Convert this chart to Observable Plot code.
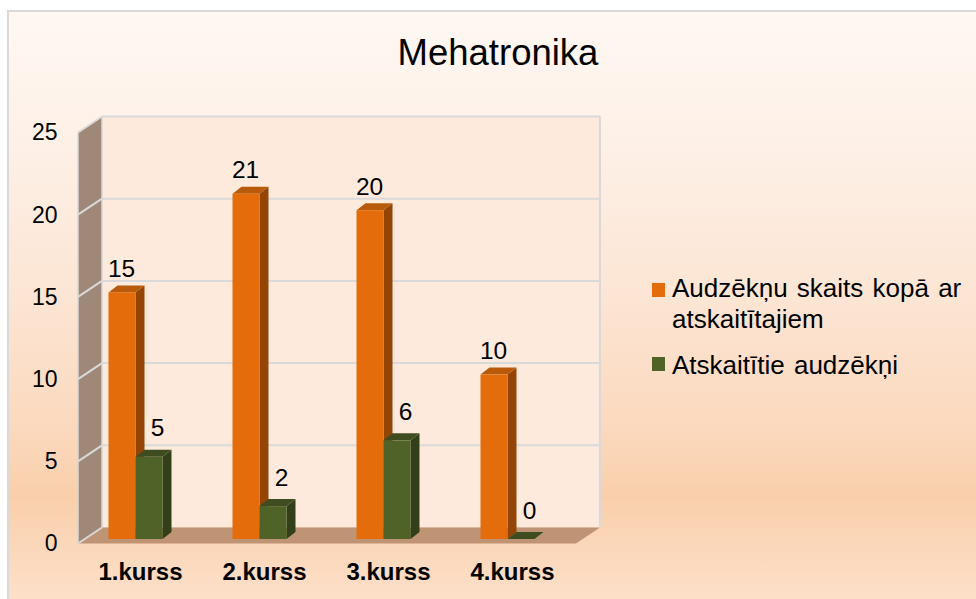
<!DOCTYPE html>
<html>
<head>
<meta charset="utf-8">
<script src="https://cdn.jsdelivr.net/npm/d3@7"></script>
<script src="https://cdn.jsdelivr.net/npm/@observablehq/plot@0.6"></script>
<style>
  html, body { margin: 0; padding: 0; background: #ffffff; }
  #chart { position: relative; width: 976px; height: 599px; overflow: hidden; font-family: "Liberation Sans", Arial, sans-serif; color: #000; }
  #bg { position: absolute; left: 7px; top: 10px; right: -4px; bottom: -4px; border-left: 2px solid #d9d9d9; border-top: 2px solid #d9d9d9;
        background: linear-gradient(to bottom, #fff8f3 0%, #fdefe5 25%, #fce4d2 50%, #fbd9be 70%, #f9cfab 82%, #fde0ca 100%); }
  #plot { position: absolute; left: 0; top: 0; }
  #title { position: absolute; left: 298px; width: 400px; top: 35px; text-align: center; font-size: 36.5px; line-height: 36.5px; }
  #legend { position: absolute; left: 652px; top: 0; font-size: 26px; word-spacing: 2px; }
  .sw { position: absolute; left: 0; width: 13px; height: 14px; }
  .lt { position: absolute; left: 20px; line-height: 31px; white-space: nowrap; }
</style>
</head>
<body>
<div id="chart">
  <div id="bg"></div>
  <div id="plot"></div>
  <div id="title">Mehatronika</div>
  <div id="legend"></div>
</div>
<script>
// ---- data ----
const title = "Mehatronika";
const categories = ["1.kurss", "2.kurss", "3.kurss", "4.kurss"];
const seriesNames = ["Audzēkņu skaits kopā ar atskaitītajiem", "Atskaitītie audzēkņi"];
const legendLines = [["Audzēkņu skaits kopā ar", "atskaitītajiem"], ["Atskaitītie audzēkņi"]];
const totalValues = [15, 21, 20, 10];
const droppedValues = [5, 2, 6, 0];
const yTicks = [0, 5, 10, 15, 20, 25];

// ---- styles ----
const colors = ["#e46c0a", "#4f6228"];
const topColors = ["#b95a0b", "#3e4c1f"];
const sideColors = ["#944506", "#323f18"];

const totals = categories.map((c, i) => ({course: c, series: seriesNames[0], value: totalValues[i]}));
const dropped = categories.map((c, i) => ({course: c, series: seriesNames[1], value: droppedValues[i]}));

const BAR_SHIFT = 13.5;
const plot = Plot.plot({
  width: 976,
  height: 599,
  marginLeft: 60,
  marginBottom: 60,
  marginTop: 0,
  marginRight: 0,
  style: {background: "transparent", fontFamily: "'Liberation Sans', Arial, sans-serif", color: "#000", overflow: "visible"},
  x: {domain: categories, range: [71.65, 570.35], paddingInner: 0.7835, paddingOuter: 0.39175, label: null},
  y: {domain: [0, 25], range: [539, 128], label: null},
  marks: [
    Plot.axisY(yTicks, {tickSize: 0, tickPadding: 3, dy: 4.5, fontSize: 23, fill: "#000", label: null}),
    Plot.axisX({tickSize: 0, tickPadding: 23.5, dx: 4.5, fontSize: 24, fontWeight: "bold", fill: "#000", label: null}),
    Plot.barY(totals, {x: "course", y: "value", fill: colors[0], dx: -BAR_SHIFT}),
    Plot.barY(dropped, {x: "course", y: "value", fill: colors[1], dx: BAR_SHIFT}),
    Plot.text(totals, {x: "course", y: "value", text: d => String(d.value), dx: -BAR_SHIFT - 1, dy: -16, lineAnchor: "bottom", fontSize: 24.5, fill: "#000"}),
    Plot.text(dropped, {x: "course", y: "value", text: d => String(d.value), dx: BAR_SHIFT + 8, dy: -21, lineAnchor: "bottom", fontSize: 24.5, fill: "#000"})
  ]
});
document.getElementById("plot").appendChild(plot);

// ---- 3D decoration built from the plot's own scales ----
const svg = d3.select(plot);
const xs = plot.scale("x"), ys = plot.scale("y");
const bw = xs.bandwidth;
const xFun = v => xs.apply(v);
const yFun = v => ys.apply(v);
const FRONT_DY = 4.5;             // floor front edge relative to the bar plane
const DEPTH = [24, -16];          // front -> back wall
const BAR_DEPTH = [9, -7];        // bar thickness
const wallX0 = 78, wallX1 = 600;  // front-left edge x, back-right edge x
const yF = v => yFun(v) + FRONT_DY;
const yB = v => yF(v) + DEPTH[1];
const pts = a => a.map(p => p.join(",")).join(" ");

const deco = svg.insert("g", "g").attr("aria-label", "walls");
const y0 = yTicks[0], yMax = yTicks[yTicks.length - 1];
const bx0 = wallX0 + DEPTH[0];
// back wall
deco.append("polygon").attr("points", pts([[bx0, yB(yMax)], [wallX1, yB(yMax)], [wallX1, yB(y0)], [bx0, yB(y0)]])).attr("fill", "#fdeadc");
// left side wall
deco.append("polygon").attr("points", pts([[wallX0, yF(y0)], [wallX0, yF(yMax)], [bx0, yB(yMax)], [bx0, yB(y0)]])).attr("fill", "#a08878");
// floor
deco.append("polygon").attr("points", pts([[wallX0, yF(y0)], [bx0, yB(y0)], [wallX1, yB(y0)], [wallX1 - DEPTH[0], yF(y0)]])).attr("fill", "#bf9474");
// gridlines
for (const v of yTicks.slice(1)) {
  deco.append("line").attr("x1", bx0).attr("x2", wallX1).attr("y1", yB(v)).attr("y2", yB(v)).attr("stroke", "#d9d9d9").attr("stroke-width", 2);
  deco.append("line").attr("x1", wallX0).attr("x2", bx0).attr("y1", yF(v)).attr("y2", yB(v)).attr("stroke", "#d9d9d9").attr("stroke-width", 2);
}
deco.append("line").attr("x1", wallX0).attr("x2", bx0).attr("y1", yF(y0)).attr("y2", yB(y0)).attr("stroke", "#d9d9d9").attr("stroke-width", 2);
deco.append("line").attr("x1", wallX1).attr("x2", wallX1).attr("y1", yB(yMax)).attr("y2", yB(y0)).attr("stroke", "#d9d9d9").attr("stroke-width", 2);
deco.append("line").attr("x1", wallX0).attr("x2", wallX0).attr("y1", yF(yMax)).attr("y2", yF(y0)).attr("stroke", "#d9d9d9").attr("stroke-width", 1.5);
deco.append("line").attr("x1", bx0).attr("x2", bx0).attr("y1", yB(yMax)).attr("y2", yB(y0)).attr("stroke", "#d9d9d9").attr("stroke-width", 1.5);

// bar top & side faces, inserted before each bar group
const barGroups = svg.selectAll("g[aria-label='bar']").nodes();
[totals, dropped].forEach((rows, s) => {
  const g = document.createElementNS("http://www.w3.org/2000/svg", "g");
  const sel = d3.select(g);
  const shift = s === 0 ? -BAR_SHIFT : BAR_SHIFT;
  for (const d of rows) {
    const left = xFun(d.course) + shift, right = left + bw;
    const yt = yFun(d.value), yb = yFun(0);
    const [ddx, ddy] = BAR_DEPTH;
    if (yb - yt > 0) {
      sel.append("polygon").attr("points", pts([[right, yt], [right + ddx, yt + ddy], [right + ddx, yb + ddy], [right, yb]])).attr("fill", sideColors[s]);
    }
    sel.append("polygon").attr("points", pts([[left, yt], [left + ddx, yt + ddy], [right + ddx, yt + ddy], [right, yt]])).attr("fill", topColors[s]);
  }
  const target = barGroups[s];
  if (target) target.parentNode.insertBefore(g, target); else plot.appendChild(g);
});

// ---- legend ----
const legend = d3.select("#legend");
const legendItems = [
  {color: colors[0], top: 272.5, swTop: 283, lines: legendLines[0]},
  {color: colors[1], top: 349.5, swTop: 357, lines: legendLines[1]}
];
legendItems.forEach(it => {
  legend.append("div").attr("class", "sw").style("top", it.swTop + "px").style("background", it.color);
  legend.append("div").attr("class", "lt").style("top", it.top + "px").html(it.lines.join("<br>"));
});
</script>
</body>
</html>
